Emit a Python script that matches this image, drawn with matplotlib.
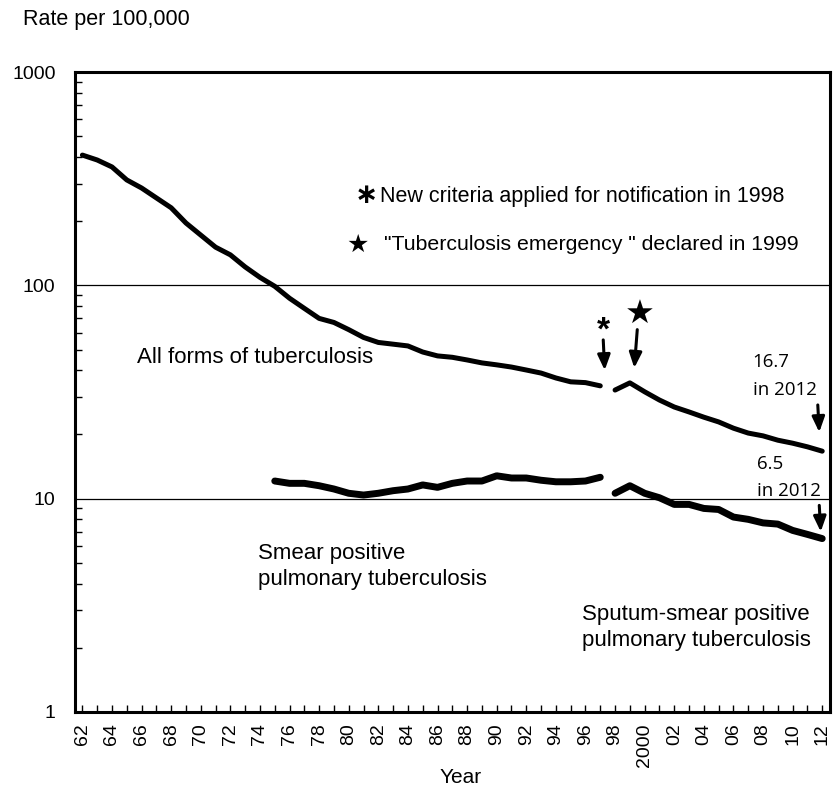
import numpy as np
import matplotlib
matplotlib.use('Agg')
import matplotlib.pyplot as plt

plt.rcParams['font.family'] = ['Liberation Sans', 'DejaVu Sans']

# 数据（每10万人发病率）
years_old = list(range(1962, 1998))
years_new = list(range(1998, 2013))
all_forms_old = [408, 387, 359, 312, 286, 257, 231, 196, 172, 151, 139, 122, 109, 99,
                 87, 78, 70, 67, 62, 57, 54, 53, 52, 48.7, 46.7, 46, 44.7, 43.3, 42.4,
                 41.4, 40.1, 38.8, 36.8, 35.3, 35, 33.8]
all_forms_new = [32.3, 34.9, 31.7, 29, 26.9, 25.5, 24.1, 22.9, 21.4, 20.3, 19.7, 18.8,
                 18.2, 17.5, 16.7]
smear_years = list(range(1975, 1998))
smear_old = [12.1, 11.8, 11.8, 11.5, 11.1, 10.6, 10.4, 10.6, 10.9, 11.1, 11.6, 11.3,
             11.8, 12.1, 12.1, 12.8, 12.5, 12.5, 12.2, 12.0, 12.0, 12.1, 12.6]
sputum_new = [10.6, 11.5, 10.6, 10.1, 9.4, 9.4, 9.0, 8.9, 8.2, 8.0, 7.7, 7.6, 7.1, 6.8, 6.5]

tick_years = list(range(1962, 2013, 2))
tick_labels = ['2000' if y == 2000 else '%02d' % (y % 100) for y in tick_years]

fig = plt.figure(figsize=(8.38, 7.89), dpi=100)
ax = fig.add_axes([0.0895, 0.0976, 0.9005, 0.8111])

ax.plot(years_old, all_forms_old, color='black', lw=3.6, solid_capstyle='round')
ax.plot(years_new, all_forms_new, color='black', lw=3.6, solid_capstyle='round')
ax.plot(smear_years, smear_old, color='black', lw=5, solid_capstyle='round')
ax.plot(years_new, sputum_new, color='black', lw=5, solid_capstyle='round')

ax.set_yscale('log')
ax.set_ylim(1, 1000)
ax.set_xlim(1961.5, 2012.5)
ax.axhline(10, color='black', lw=0.9, zorder=0)
ax.axhline(100, color='black', lw=0.9, zorder=0)

for s in ax.spines.values():
    s.set_linewidth(2.2)

ax.set_yticks([1, 10, 100, 1000])
ax.set_yticklabels(['1', '10', '100', '1000'], fontsize=14)
ax.tick_params(axis='y', which='major', length=0, pad=14)
ax.tick_params(axis='y', which='minor', direction='in', length=5, width=1)
ax.yaxis.set_minor_formatter(matplotlib.ticker.NullFormatter())

ax.set_xticks(tick_years)
ax.set_xticklabels(tick_labels, rotation=90, fontsize=14)
ax.set_xticks(list(range(1962, 2013)), minor=True)
ax.tick_params(axis='x', which='both', direction='in', length=5, width=1, pad=8)
ax.set_xlabel('Year', fontsize=15, va='center')
ax.xaxis.set_label_coords(0.511, -0.102)

fig.text(0.028, 0.975, 'Rate per 100,000', fontsize=15.5, va='center')

# 注释文字
ax.text(1981.2, 262, '\u2217', fontsize=20, fontweight='bold', va='center', ha='center')
ax.text(1982.1, 262, 'New criteria applied for notification in 1998', fontsize=15.5, va='center')
ax.text(1980.6, 155, '\u2605', fontsize=18, va='center', ha='center')
ax.text(1982.4, 155, '"Tuberculosis emergency " declared in 1999', fontsize=15.3, va='center')

ax.text(1965.7, 45.7, 'All forms of tuberculosis', fontsize=16, va='center')
ax.text(1973.9, 4.8, 'Smear positive\npulmonary tuberculosis', fontsize=16,
        va='center', linespacing=1.3)
ax.text(1995.75, 2.5, 'Sputum-smear positive\npulmonary tuberculosis', fontsize=16,
        va='center', linespacing=1.3)

ax.text(2007.3, 37.6, '16.7\nin 2012', family=['Open Sans', 'DejaVu Sans'], fontsize=13.5,
        va='center', linespacing=1.65)
ax.text(2007.6, 12.6, '6.5\nin 2012', family=['Open Sans', 'DejaVu Sans'], fontsize=13.5,
        va='center', linespacing=1.65)

# 星号和星形标记及箭头
ax.text(1997.2, 61, '*', fontsize=24, fontweight='bold', ha='center', va='center')
ax.text(1999.7, 72.6, '\u2605', fontsize=24, ha='center', va='center')
arrow = dict(arrowstyle='-|>,head_width=0.27,head_length=0.65', color='black', lw=2.2,
             mutation_scale=14, shrinkA=0, shrinkB=0)
ax.annotate('', xy=(1997.3, 40), xytext=(1997.2, 55.5), arrowprops=arrow)
ax.annotate('', xy=(1999.3, 41), xytext=(1999.5, 62), arrowprops=arrow)
ax.annotate('', xy=(2011.8, 20.5), xytext=(2011.7, 27.5), arrowprops=arrow)
ax.annotate('', xy=(2011.9, 7.0), xytext=(2011.8, 9.3), arrowprops=arrow)

plt.savefig('out.png', dpi=100)
